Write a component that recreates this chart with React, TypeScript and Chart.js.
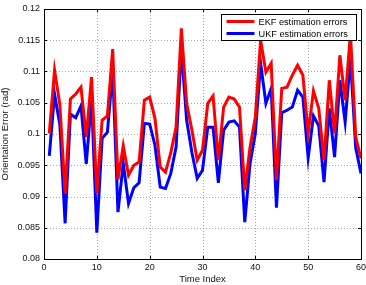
import React, { useEffect, useRef } from "react";
import { Chart, registerables } from "chart.js";

Chart.register(...registerables);

// Time indices 1..60
const timeIndex: number[] = Array.from({ length: 60 }, (_, i) => i + 1);

const ekfErrors: number[] = [
  0.1001, 0.1102, 0.1047, 0.0905, 0.1056, 0.1064, 0.1075, 0.0995, 0.1091, 0.0905,
  0.1022, 0.1029, 0.1136, 0.0927, 0.0981, 0.0934, 0.0950, 0.0955, 0.1054, 0.1059,
  0.1025, 0.0947, 0.0939, 0.0970, 0.1011, 0.1169, 0.1049, 0.1006, 0.0958, 0.0974,
  0.1049, 0.1061, 0.0958, 0.1043, 0.1059, 0.1056, 0.1043, 0.0910, 0.0979, 0.1027,
  0.1150, 0.1099, 0.1113, 0.0926, 0.1073, 0.1075, 0.1094, 0.1110, 0.1094, 0.1001,
  0.1069, 0.1041, 0.0958, 0.1086, 0.1001, 0.1126, 0.1054, 0.1161, 0.0995, 0.0961,
];

const ukfErrors: number[] = [
  0.0965, 0.1064, 0.1015, 0.0857, 0.1032, 0.1026, 0.1045, 0.0952, 0.1057, 0.0842,
  0.0993, 0.1003, 0.1102, 0.0875, 0.0953, 0.0889, 0.0914, 0.0922, 0.1017, 0.1016,
  0.0982, 0.0915, 0.0913, 0.0937, 0.0979, 0.1137, 0.1022, 0.0970, 0.0929, 0.0942,
  0.1011, 0.1011, 0.0922, 0.1006, 0.1019, 0.1021, 0.1011, 0.0859, 0.0953, 0.1001,
  0.1113, 0.1049, 0.1073, 0.0882, 0.1034, 0.1038, 0.1043, 0.1070, 0.1059, 0.0962,
  0.1029, 0.1013, 0.0923, 0.1041, 0.0963, 0.1086, 0.1019, 0.1121, 0.0978, 0.0937,
];

const seriesLabels: string[] = ["EKF estimation errors", "UKF estimation errors"];
const seriesColors: string[] = ["#ff0000", "#0000ff"];

const xTicks: number[] = [0, 10, 20, 30, 40, 50, 60];
const yTicks: number[] = [0.08, 0.085, 0.09, 0.095, 0.1, 0.105, 0.11, 0.115, 0.12];

const FONT = "'Liberation Sans', Arial, Helvetica, sans-serif";

// Dotted grid behind the lines
const gridPlugin = {
  id: "dottedGrid",
  beforeDatasetsDraw(chart: any) {
    const { ctx, chartArea: a, scales } = chart;
    ctx.save();
    ctx.strokeStyle = "#a8a8a8";
    ctx.lineWidth = 1;
    ctx.setLineDash([1, 2]);
    ctx.beginPath();
    for (const v of xTicks.slice(1, -1)) {
      const x = Math.round(scales.x.getPixelForValue(v)) + 0.5;
      ctx.moveTo(x, a.top);
      ctx.lineTo(x, a.bottom);
    }
    for (const v of yTicks.slice(1, -1)) {
      const y = Math.round(scales.y.getPixelForValue(v)) + 0.5;
      ctx.moveTo(a.left, y);
      ctx.lineTo(a.right, y);
    }
    ctx.stroke();
    ctx.restore();
  },
};

// Frame, inward tick marks and an in-plot legend
const framePlugin = {
  id: "frame",
  afterDatasetsDraw(chart: any) {
    const { ctx, chartArea: a, scales } = chart;
    ctx.save();
    ctx.strokeStyle = "#000";
    ctx.lineWidth = 1;
    ctx.strokeRect(Math.round(a.left) + 0.5, Math.round(a.top) + 0.5,
      Math.round(a.right - a.left), Math.round(a.bottom - a.top));
    const tl = 3;
    ctx.beginPath();
    for (const v of xTicks) {
      const x = Math.round(scales.x.getPixelForValue(v)) + 0.5;
      ctx.moveTo(x, a.bottom); ctx.lineTo(x, a.bottom - tl);
      ctx.moveTo(x, a.top); ctx.lineTo(x, a.top + tl);
    }
    for (const v of yTicks) {
      const y = Math.round(scales.y.getPixelForValue(v)) + 0.5;
      ctx.moveTo(a.left, y); ctx.lineTo(a.left + tl, y);
      ctx.moveTo(a.right, y); ctx.lineTo(a.right - tl, y);
    }
    ctx.stroke();

    // legend box
    const bx = 221.5, by = 14.5, bw = 135, bh = 26;
    ctx.fillStyle = "#fff";
    ctx.fillRect(bx, by, bw, bh);
    ctx.strokeStyle = "#000";
    ctx.strokeRect(bx, by, bw, bh);
    ctx.font = `9.2px ${FONT}`;
    ctx.textBaseline = "middle";
    ctx.textAlign = "left";
    seriesLabels.forEach((label, i) => {
      const y = by + 7 + i * 12;
      ctx.strokeStyle = seriesColors[i];
      ctx.lineWidth = 3;
      ctx.beginPath();
      ctx.moveTo(bx + 5, y);
      ctx.lineTo(bx + 33, y);
      ctx.stroke();
      ctx.fillStyle = "#000";
      ctx.fillText(label, bx + 37, y + 0.5);
    });
    ctx.restore();
  },
};

export default function App() {
  const canvasRef = useRef<HTMLCanvasElement | null>(null);

  useEffect(() => {
    document.body.style.margin = "0";
    const canvas = canvasRef.current;
    if (!canvas) return;
    const chart = new Chart(canvas, {
      type: "line",
      data: {
        datasets: [ekfErrors, ukfErrors].map((vals, i) => ({
          label: seriesLabels[i],
          data: vals.map((v, k) => ({ x: timeIndex[k], y: v })),
          borderColor: seriesColors[i],
          backgroundColor: seriesColors[i],
          borderWidth: 3,
          pointRadius: 0,
          tension: 0,
          fill: false,
        })),
      },
      options: {
        animation: false,
        responsive: false,
        maintainAspectRatio: false,
        layout: { padding: { top: 9, right: 5, left: 0, bottom: 0 } },
        plugins: {
          legend: { display: false },
          tooltip: { enabled: false },
        },
        scales: {
          x: {
            type: "linear",
            min: 0,
            max: 60,
            afterBuildTicks: (s: any) => { s.ticks = xTicks.map((v) => ({ value: v })); },
            afterFit: (s: any) => {
              s.height = 26;
              s.paddingLeft = 0;
              s.paddingRight = 0;
            },
            ticks: {
              font: { family: FONT, size: 9, lineHeight: 1.1 },
              color: "#111",
              padding: 4,
              maxRotation: 0,
            },
            grid: { display: false, drawTicks: false },
            border: { display: false },
            title: {
              display: true,
              text: "Time Index",
              font: { family: FONT, size: 9.5, lineHeight: 1.1 },
              color: "#111",
              padding: { top: 0, bottom: 0 },
            },
          },
          y: {
            type: "linear",
            min: 0.08,
            max: 0.12,
            afterBuildTicks: (s: any) => { s.ticks = yTicks.map((v) => ({ value: v })); },
            afterFit: (s: any) => {
              s.width = 44;
              s.paddingTop = 0;
              s.paddingBottom = 0;
            },
            ticks: {
              font: { family: FONT, size: 9 },
              color: "#111",
              padding: 4,
              callback: (v: any) => String(Number(v.toFixed(3))),
            },
            grid: { display: false, drawTicks: false },
            border: { display: false },
            title: {
              display: true,
              text: "Orientation Error (rad)",
              font: { family: FONT, size: 9.5 },
              color: "#111",
              padding: { top: 0, bottom: 2 },
            },
          },
        },
      },
      plugins: [gridPlugin, framePlugin],
    } as any);
    return () => chart.destroy();
  }, []);

  return (
    <div style={{ width: 366, height: 285, background: "#fff" }}>
      <canvas ref={canvasRef} width={366} height={285} style={{ display: "block" }} />
    </div>
  );
}
